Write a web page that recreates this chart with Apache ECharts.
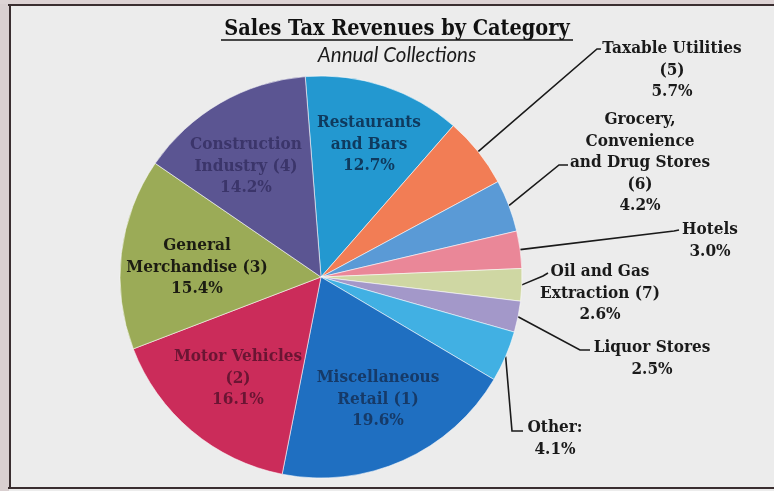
<!DOCTYPE html>
<html>
<head>
<meta charset="utf-8">
<script src="https://cdn.jsdelivr.net/npm/echarts@6/dist/echarts.min.js"></script>
<style>
  html, body { margin: 0; padding: 0; background: #ececec; }
  #chart { width: 774px; height: 491px; }
</style>
</head>
<body>
<div id="chart"></div>
<script>
// Slice names, clockwise from the top of the pie
const categories = [
  'Restaurants\nand Bars',
  'Taxable Utilities\n(5)',
  'Grocery,\nConvenience\nand Drug Stores\n(6)',
  'Hotels',
  'Oil and Gas\nExtraction (7)',
  'Liquor Stores',
  'Other:',
  'Miscellaneous\nRetail (1)',
  'Motor Vehicles\n(2)',
  'General\nMerchandise (3)',
  'Construction\nIndustry (4)'
];

// Share of annual sales tax collections, percent
const shares = [12.7, 5.7, 4.2, 3.0, 2.6, 2.5, 4.1, 19.6, 16.1, 15.4, 14.2];

// Slice fills
const sliceColors = [
  '#2398d0', '#f27d55', '#5a9ad6', '#ea8798', '#cfd7a3', '#a398c9',
  '#41b0e3', '#1f6fc1', '#cb2c5a', '#9bab57', '#5b5592'
];

// Which labels sit inside their slice, and their text colour
const insideLabel = [true, false, false, false, false, false, false, true, true, true, true];
const labelInk = [
  '#0f3a5e', '#1a1a1a', '#1a1a1a', '#1a1a1a', '#1a1a1a', '#1a1a1a',
  '#1a1a1a', '#163a68', '#6a1533', '#1c1c12', '#3b356a'
];

// Label anchors (top-centre of each text block) and leader-line bends
const labelSpots = [
  { x: 369, y: 112 },
  { x: 672, y: 38,  bend: [[597, 49], [601, 49]] },
  { x: 640, y: 109, bend: [[559, 165], [568, 165]] },
  { x: 710, y: 219, bend: [[674, 231], [679, 230]] },
  { x: 600, y: 261, bend: [[543, 276], [548, 273]] },
  { x: 652, y: 337, bend: [[580, 350], [590, 350]] },
  { x: 555, y: 417, bend: [[512, 431], [523, 431]] },
  { x: 378, y: 367 },
  { x: 238, y: 346 },
  { x: 197, y: 235 },
  { x: 246, y: 134 }
];

const SERIF = '"DejaVu Serif Condensed", "Liberation Serif", serif';

const pieData = categories.map((name, i) => ({
  name: name,
  value: shares[i],
  itemStyle: { color: sliceColors[i] },
  label: {
    position: insideLabel[i] ? 'inside' : 'outside',
    color: labelInk[i]
  },
  labelLine: { show: !insideLabel[i] }
}));

const chart = echarts.init(document.getElementById('chart'), null, { renderer: 'canvas' });

chart.setOption({
  backgroundColor: '#ececec',
  animation: false,
  title: [{
    text: 'Sales Tax Revenues by Category',
    left: 397,
    textAlign: 'center',
    top: 18,
    padding: 0,
    textStyle: {
      fontFamily: SERIF,
      fontWeight: 'bold',
      fontSize: 21.5,
      color: '#111111'
    }
  }, {
    text: 'Annual Collections',
    left: 397,
    textAlign: 'center',
    top: 45,
    padding: 0,
    textStyle: {
      fontFamily: 'Lato, "Open Sans", sans-serif',
      fontStyle: 'italic',
      fontWeight: 'normal',
      fontSize: 20.5,
      color: '#1a1a1a'
    }
  }],
  graphic: [
    // scanned page edge on the left and the frame lines
    { type: 'rect', shape: { x: 0, y: 0, width: 9, height: 491 }, style: { fill: '#d9cfd0' }, silent: true },
    { type: 'rect', shape: { x: 0, y: 0, width: 774, height: 4 }, style: { fill: '#ddd3d4' }, silent: true },
    { type: 'line', shape: { x1: 8, y1: 5, x2: 774, y2: 5 }, style: { stroke: '#3a2e30', lineWidth: 2 }, silent: true },
    { type: 'line', shape: { x1: 10, y1: 4, x2: 10, y2: 489 }, style: { stroke: '#3a2e30', lineWidth: 2 }, silent: true },
    { type: 'line', shape: { x1: 8, y1: 488, x2: 774, y2: 488 }, style: { stroke: '#3a2e30', lineWidth: 2 }, silent: true },
    // title underline
    { type: 'line', shape: { x1: 221, y1: 40, x2: 573, y2: 40 }, style: { stroke: '#111111', lineWidth: 1.6 }, silent: true }
  ],
  series: [{
    type: 'pie',
    center: [321, 277],
    radius: 201,
    startAngle: 94.5,
    clockwise: true,
    avoidLabelOverlap: false,
    silent: true,
    itemStyle: {
      borderColor: 'rgba(255,255,255,0.55)',
      borderWidth: 1
    },
    label: {
      show: true,
      fontFamily: SERIF,
      fontWeight: 'bold',
      fontSize: 17,
      lineHeight: 21.5,
      align: 'center',
      formatter: p => p.name + '\n' + p.value.toFixed(1) + '%'
    },
    labelLine: {
      lineStyle: { color: '#1a1a1a', width: 1.6 }
    },
    labelLayout: params => {
      const spot = labelSpots[params.dataIndex];
      const out = { x: spot.x, y: spot.y, align: 'center', verticalAlign: 'top' };
      if (spot.bend && params.labelLinePoints) {
        out.labelLinePoints = [params.labelLinePoints[0]].concat(spot.bend);
      }
      return out;
    },
    data: pieData
  }]
});
</script>
</body>
</html>
